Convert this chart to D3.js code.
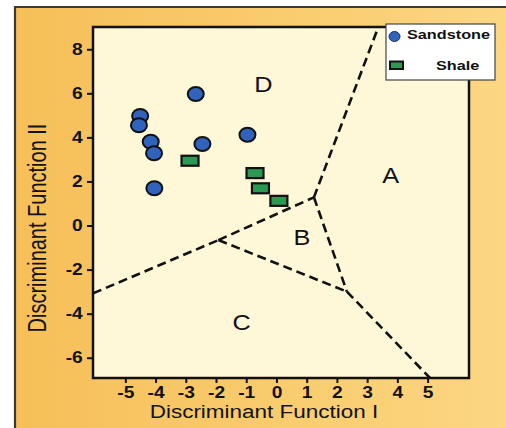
<!DOCTYPE html>
<html>
<head>
<meta charset="utf-8">
<script src="https://cdn.jsdelivr.net/npm/d3@7"></script>
<style>
  html, body { margin: 0; padding: 0; background: #ffffff; }
  svg { display: block; }
  text { font-family: "Liberation Sans", Arial, sans-serif; fill: #111; }
</style>
</head>
<body>
<div id="chart"></div>
<script>
// ---------- data ----------
const xTicks = [-5, -4, -3, -2, -1, 0, 1, 2, 3, 4, 5];
const yTicks = [-6, -4, -2, 0, 2, 4, 6, 8];

const sandstoneX = [-4.51, -4.55, -4.16, -4.05, -4.04, -2.67, -2.45, -0.96];
const sandstoneY = [4.97, 4.55, 3.80, 3.28, 1.69, 5.97, 3.70, 4.12];

const shaleX = [-2.86, -0.71, -0.53, 0.08];
const shaleY = [2.94, 2.38, 1.69, 1.12];

// discriminant region boundaries (segments, data units)
const boundaryFrom = [[-6.07, -3.08], [-1.92, -0.66], [1.24, 1.28], [1.24, 1.28], [-1.92, -0.66], [2.33, -3.0]];
const boundaryTo   = [[-1.92, -0.66], [1.24, 1.28], [3.37, 9.01], [2.33, -3.0], [2.33, -3.0], [5.08, -6.92]];

const regionNames = ["D", "A", "B", "C"];
const regionX = [-0.43, 3.78, 0.84, -1.15];
const regionY = [6.42, 2.29, -0.51, -4.37];

const legendLabels = ["Sandstone", "Shale"];

const xTitle = "Discriminant Function I";
const yTitle = "Discriminant Function II";

// ---------- layout ----------
const W = 506, H = 428;
const plot = { left: 93, top: 27, right: 469, bottom: 378 };
const SX = 1.25; // horizontal stretch of lettering seen in the reference

const svg = d3.select("#chart").append("svg").attr("width", W).attr("height", H);

const defs = svg.append("defs");
const grad = defs.append("linearGradient").attr("id", "bg").attr("x1", "0").attr("x2", "1").attr("y1", "0").attr("y2", "0");
grad.append("stop").attr("offset", "0").attr("stop-color", "#F6BF58");
grad.append("stop").attr("offset", "0.5").attr("stop-color", "#F9CB6C");
grad.append("stop").attr("offset", "1").attr("stop-color", "#FCD683");

// outer panel
svg.append("rect").attr("x", 15).attr("y", 7).attr("width", W - 15).attr("height", H - 7).attr("fill", "url(#bg)");
svg.append("path").attr("d", `M15,${H} V7 H${W}`).attr("fill", "none").attr("stroke", "#3a3a3a").attr("stroke-width", 2.2);

const x = d3.scaleLinear().domain([-6.07, 6.37]).range([plot.left, plot.right]);
const y = d3.scaleLinear().domain([-6.92, 9.01]).range([plot.bottom, plot.top]);

// plot area
svg.append("rect").attr("x", plot.left).attr("y", plot.top)
  .attr("width", plot.right - plot.left).attr("height", plot.bottom - plot.top)
  .attr("fill", "#FEF8D9");

// axes
const fmt = d => String(d);
const gx = svg.append("g").attr("transform", `translate(0,${plot.bottom})`)
  .call(d3.axisBottom(x).tickValues(xTicks).tickSize(5).tickPadding(4).tickFormat(fmt));
const gy = svg.append("g").attr("transform", `translate(${plot.left},0)`)
  .call(d3.axisLeft(y).tickValues(yTicks).tickSize(6).tickPadding(4).tickFormat(fmt));
[gx, gy].forEach(g => {
  g.select(".domain").remove();
  g.selectAll(".tick line").attr("stroke", "#111").attr("stroke-width", 2);
  g.selectAll(".tick text").attr("font-size", 16).attr("font-family", "Liberation Sans, Arial, sans-serif")
    .attr("fill", "#111").attr("font-weight", "bold").attr("transform", `scale(1.2,1)`);
});
gy.selectAll(".tick text").attr("x", -10.3 / 1.2);

// boundaries (clipped)
defs.append("clipPath").attr("id", "clip").append("rect")
  .attr("x", plot.left).attr("y", plot.top).attr("width", plot.right - plot.left).attr("height", plot.bottom - plot.top);
const gb = svg.append("g").attr("clip-path", "url(#clip)");
gb.selectAll("line.b").data(boundaryFrom.map((f, i) => [f, boundaryTo[i]])).join("line")
  .attr("x1", d => x(d[0][0])).attr("y1", d => y(d[0][1]))
  .attr("x2", d => x(d[1][0])).attr("y2", d => y(d[1][1]))
  .attr("stroke", "#111").attr("stroke-width", 2.6).attr("stroke-dasharray", "9,5");

// plot frame
svg.append("rect").attr("x", plot.left).attr("y", plot.top)
  .attr("width", plot.right - plot.left).attr("height", plot.bottom - plot.top)
  .attr("fill", "none").attr("stroke", "#111").attr("stroke-width", 2.5);

// region letters
svg.selectAll("text.region").data(regionNames).join("text").attr("class", "region")
  .attr("transform", (d, i) => `translate(${x(regionX[i])},${y(regionY[i])}) scale(1.15,1)`)
  .attr("text-anchor", "middle").attr("dy", "0.36em")
  .attr("font-size", 22).text(d => d);

// points
svg.selectAll("ellipse.sand").data(sandstoneX.map((v, i) => [v, sandstoneY[i]])).join("ellipse")
  .attr("cx", d => x(d[0])).attr("cy", d => y(d[1]))
  .attr("rx", 8).attr("ry", 7)
  .attr("fill", "#2F63BC").attr("stroke", "#111").attr("stroke-width", 2);

svg.selectAll("rect.shale").data(shaleX.map((v, i) => [v, shaleY[i]])).join("rect")
  .attr("x", d => x(d[0]) - 8.5).attr("y", d => y(d[1]) - 5)
  .attr("width", 17).attr("height", 10)
  .attr("fill", "#2A9A52").attr("stroke", "#111").attr("stroke-width", 2.2);

// axis titles
svg.append("text").attr("transform", `translate(264,418) scale(${SX},1)`)
  .attr("text-anchor", "middle").attr("font-size", 18).text(xTitle);
svg.append("text").attr("transform", `translate(46,228) scale(${SX},1) rotate(-90)`)
  .attr("text-anchor", "middle").attr("font-size", 20).text(yTitle);

// legend
const lg = svg.append("g");
lg.append("rect").attr("x", 386).attr("y", 24).attr("width", 109).attr("height", 56)
  .attr("fill", "#ffffff").attr("stroke", "#444").attr("stroke-width", 1.2);
lg.append("ellipse").attr("cx", 394.5).attr("cy", 36.5).attr("rx", 5.5).attr("ry", 5)
  .attr("fill", "#2F63BC").attr("stroke", "#1a2a55").attr("stroke-width", 1);
lg.append("rect").attr("x", 390).attr("y", 61.5).attr("width", 13).attr("height", 7.5)
  .attr("fill", "#2A9A52").attr("stroke", "#111").attr("stroke-width", 2);
lg.append("text").attr("transform", `translate(407,38.5) scale(${SX},1)`)
  .attr("font-size", 13).attr("font-weight", "bold").text(legendLabels[0]);
lg.append("text").attr("transform", `translate(436,70) scale(${SX},1)`)
  .attr("font-size", 13).attr("font-weight", "bold").text(legendLabels[1]);
</script>
</body>
</html>
